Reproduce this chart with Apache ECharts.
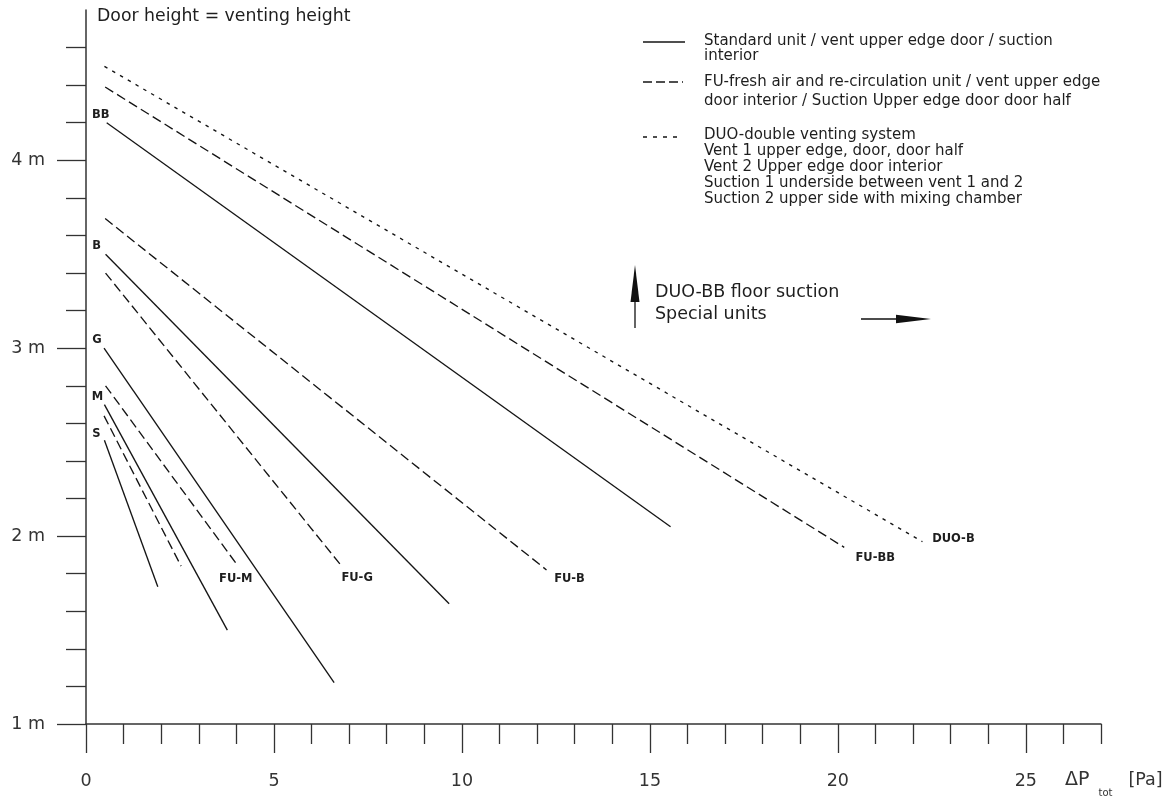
<!DOCTYPE html>
<html>
<head>
<meta charset="utf-8">
<script src="https://cdn.jsdelivr.net/npm/echarts@6/dist/echarts.min.js"></script>
<style>
html,body{margin:0;padding:0;background:#fff;}
#chart{width:1176px;height:798px;}
</style>
</head>
<body>
<div id="chart"></div>
<script>
// ---- axis ticks ----
const xMajorTicks = [0, 5, 10, 15, 20, 25];
const xMinorTicks = [1, 2, 3, 4, 6, 7, 8, 9, 11, 12, 13, 14, 16, 17, 18, 19, 21, 22, 23, 24, 26, 27];
const yMajorTicks = [1, 2, 3, 4];
const yMinorTicks = [1.2, 1.4, 1.6, 1.8, 2.2, 2.4, 2.6, 2.8, 3.2, 3.4, 3.6, 3.8, 4.2, 4.4, 4.6];

// ---- series: [ΔPtot (Pa), door height (m)] start and end ----
const stdS  = [[0.49, 2.51], [1.91, 1.73]];
const stdM  = [[0.49, 2.70], [3.76, 1.50]];
const stdG  = [[0.48, 3.00], [6.60, 1.22]];
const stdB  = [[0.52, 3.50], [9.66, 1.64]];
const stdBB = [[0.55, 4.20], [15.55, 2.05]];
const fuS   = [[0.48, 2.64], [2.53, 1.84]];
const fuM   = [[0.52, 2.80], [4.01, 1.85]];
const fuG   = [[0.52, 3.40], [6.76, 1.85]];
const fuB   = [[0.51, 3.69], [12.25, 1.82]];
const fuBB  = [[0.51, 4.39], [20.17, 1.94]];
const duoB  = [[0.49, 4.50], [22.25, 1.97]];

const FONT = 'DejaVu Sans';
const INK = '#1e1e1e';

function lbl(text, offset) {
  return {
    show: true, formatter: text, position: 'inside', offset: offset,
    fontSize: 11.5, fontWeight: 'bold', color: INK, fontFamily: FONT
  };
}

function mk(name, pts, dash, startLabel, endLabel) {
  const data = pts.map((p, i) => {
    const d = { value: p };
    if (i === 0 && startLabel) d.label = lbl(startLabel[0], startLabel[1]);
    if (i === pts.length - 1 && endLabel) d.label = lbl(endLabel[0], endLabel[1]);
    return d;
  });
  return {
    name: name, type: 'line', xAxisIndex: 0, yAxisIndex: 0,
    data: data, symbol: 'circle', symbolSize: 0.1, showSymbol: true,
    itemStyle: { color: 'rgba(0,0,0,0)' },
    label: { show: false },
    lineStyle: { color: '#151515', width: 1.35, type: dash },
    emphasis: { disabled: true }, silent: true
  };
}

const SOLID = 'solid', DASH = [9.5, 4.5], DOT = [3.5, 5.5];

const series = [
  mk('S', stdS, SOLID, ['S', [-8, -6]], null),
  mk('M', stdM, SOLID, ['M', [-7, -8]], null),
  mk('G', stdG, SOLID, ['G', [-7, -8]], null),
  mk('B', stdB, SOLID, ['B', [-9, -8]], null),
  mk('BB', stdBB, SOLID, ['BB', [-6, -8]], null),
  mk('FU-S', fuS, DASH, null, null),
  mk('FU-M', fuM, DASH, null, ['FU-M', [-1, 15]]),
  mk('FU-G', fuG, DASH, null, ['FU-G', [17, 14]]),
  mk('FU-B', fuB, DASH, null, ['FU-B', [23, 9]]),
  mk('FU-BB', fuBB, DASH, null, ['FU-BB', [31, 11]]),
  mk('DUO-B', duoB, DOT, null, ['DUO-B', [31, -3]])
];

const axisColor = '#333';

const option = {
  animation: false,
  backgroundColor: '#fff',
  textStyle: { fontFamily: FONT },
  grid: { left: 86, right: 75, top: 10, bottom: 74 },
  xAxis: [
    {
      type: 'value', min: 0, max: 27, position: 'bottom',
      axisLine: { show: true, onZero: false, lineStyle: { color: axisColor, width: 1.5 } },
      axisTick: { show: true, customValues: xMajorTicks, length: 29, lineStyle: { color: axisColor, width: 1.3 } },
      axisLabel: { show: true, customValues: xMajorTicks, margin: 48, fontSize: 17.5, color: '#333', fontFamily: FONT },
      splitLine: { show: false }
    },
    {
      type: 'value', min: 0, max: 27, position: 'bottom',
      axisLine: { show: false, onZero: false },
      axisTick: { show: true, customValues: xMinorTicks, length: 20, lineStyle: { color: axisColor, width: 1.3 } },
      axisLabel: { show: false },
      splitLine: { show: false }
    }
  ],
  yAxis: [
    {
      type: 'value', min: 1, max: 4.8, position: 'left',
      name: 'Door height = venting height', nameLocation: 'end', nameGap: -7,
      nameTextStyle: { align: 'left', verticalAlign: 'middle', padding: [0, 0, 0, 11], fontSize: 17.3, color: INK, fontFamily: FONT },
      axisLine: { show: true, onZero: false, lineStyle: { color: axisColor, width: 1.5 } },
      axisTick: { show: true, customValues: yMajorTicks, length: 29, lineStyle: { color: axisColor, width: 1.3 } },
      axisLabel: { show: true, customValues: yMajorTicks, margin: 41, fontSize: 17.5, color: '#333', fontFamily: FONT, formatter: '{value} m' },
      splitLine: { show: false }
    },
    {
      type: 'value', min: 1, max: 4.8, position: 'left',
      axisLine: { show: false, onZero: false },
      axisTick: { show: true, customValues: yMinorTicks, length: 20, lineStyle: { color: axisColor, width: 1.3 } },
      axisLabel: { show: false },
      splitLine: { show: false }
    }
  ],
  series: series,
  graphic: [
    // legend symbols
    { type: 'line', shape: { x1: 643, y1: 42, x2: 685, y2: 42 }, style: { stroke: '#151515', lineWidth: 1.35 }, silent: true },
    { type: 'line', shape: { x1: 643, y1: 82, x2: 683, y2: 82 }, style: { stroke: '#151515', lineWidth: 1.35, lineDash: [9, 4] }, silent: true },
    { type: 'line', shape: { x1: 643, y1: 137, x2: 679, y2: 137 }, style: { stroke: '#151515', lineWidth: 1.35, lineDash: [4, 6] }, silent: true },
    // legend texts
    { type: 'text', x: 704, y: 34, silent: true,
      style: { text: 'Standard unit / vent upper edge door / suction\ninterior', fontSize: 15, lineHeight: 15, fontFamily: FONT, fill: INK, verticalAlign: 'top' } },
    { type: 'text', x: 704, y: 72.5, silent: true,
      style: { text: 'FU-fresh air and re-circulation unit / vent upper edge\ndoor interior / Suction Upper edge door door half', fontSize: 15, lineHeight: 19.3, fontFamily: FONT, fill: INK, verticalAlign: 'top' } },
    { type: 'text', x: 704, y: 127.5, silent: true,
      style: { text: 'DUO-double venting system\nVent 1 upper edge, door, door half\nVent 2 Upper edge door interior\nSuction 1 underside between vent 1 and 2\nSuction 2 upper side with mixing chamber', fontSize: 15, lineHeight: 16, fontFamily: FONT, fill: INK, verticalAlign: 'top' } },
    // arrows + note
    { type: 'line', shape: { x1: 635, y1: 328, x2: 635, y2: 295 }, style: { stroke: '#111', lineWidth: 1.3 }, silent: true },
    { type: 'polygon', shape: { points: [[635, 265], [630.5, 302], [639.5, 302]] }, style: { fill: '#111' }, silent: true },
    { type: 'line', shape: { x1: 861, y1: 319, x2: 900, y2: 319 }, style: { stroke: '#111', lineWidth: 1.3 }, silent: true },
    { type: 'polygon', shape: { points: [[931, 319], [896, 314.8], [896, 323.2]] }, style: { fill: '#111' }, silent: true },
    { type: 'text', x: 655, y: 281.5, silent: true,
      style: { text: 'DUO-BB floor suction\nSpecial units', fontSize: 17.5, lineHeight: 22.3, fontFamily: FONT, fill: INK, verticalAlign: 'top' } },
    // x-axis title
    { type: 'text', x: 1065, y: 762, silent: true,
      style: {
        text: '{a|ΔP}{s|tot}{b|[Pa]}', fontFamily: FONT, fill: '#333', verticalAlign: 'top',
        rich: {
          a: { fontSize: 19, lineHeight: 36, verticalAlign: 'middle', fill: '#333', fontFamily: FONT },
          s: { fontSize: 10, lineHeight: 10, verticalAlign: 'bottom', fill: '#333', fontFamily: FONT, padding: [0, 16, 0, 9] },
          b: { fontSize: 17.5, lineHeight: 36, verticalAlign: 'middle', fill: '#333', fontFamily: FONT }
        }
      } }
  ]
};

const chart = echarts.init(document.getElementById('chart'), null, { renderer: 'canvas' });
chart.setOption(option);
</script>
</body>
</html>
